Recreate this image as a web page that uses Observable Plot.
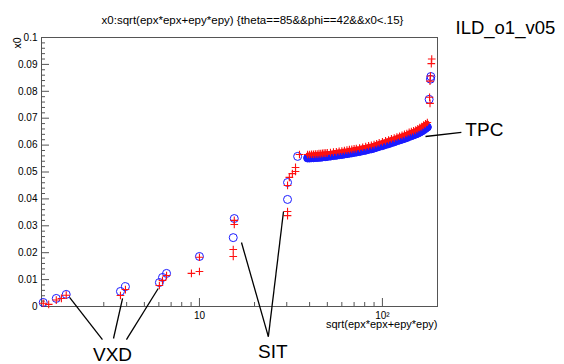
<!DOCTYPE html>
<html>
<head>
<meta charset="utf-8">
<script src="https://cdn.jsdelivr.net/npm/d3@7"></script>
<script src="https://cdn.jsdelivr.net/npm/@observablehq/plot@0.6"></script>
<style>
  body { margin: 0; background: #fff; }
</style>
</head>
<body>
<div id="chart"></div>
<script>
// Texts
const title = "x0:sqrt(epx*epx+epy*epy) {theta==85&&phi==42&&x0<.15}";
const tag = "ILD_o1_v05";
const xLabel = "sqrt(epx*epx+epy*epy)";
const yLabel = "x0";

// Blue circles: inner-detector hits (VXD, SIT) and the points past the TPC end
const blueX = [1.40, 1.65, 1.87, 3.70, 3.94, 6.04, 6.28, 6.61, 10.0, 15.3, 15.5, 30.3, 30.3, 34.4, 184, 183, 180];
const blueY = [0.0015, 0.0030, 0.0045, 0.0056, 0.0074, 0.0089, 0.0108, 0.0123, 0.0186, 0.0256, 0.0327, 0.0398, 0.0461, 0.0558, 0.0855, 0.0845, 0.0770];

// Red crosses: the same region for the second selection
const redX = [1.40, 1.50, 1.65, 1.76, 1.87, 3.70, 3.94, 6.04, 6.28, 6.61, 9.04, 10.0, 10.0, 15.5, 15.5, 15.3, 15.3, 30.3, 30.3, 30.3, 31.0, 32.2, 33.5, 33.5, 35.2, 186, 185, 183, 182, 181, 182];
const redY = [0.0012, 0.0008, 0.0024, 0.0030, 0.0042, 0.0041, 0.0063, 0.0078, 0.0097, 0.0115, 0.0123, 0.0130, 0.0183, 0.0320, 0.0305, 0.0212, 0.0186, 0.0353, 0.0338, 0.0450, 0.0480, 0.0494, 0.0502, 0.0517, 0.0565, 0.0920, 0.0903, 0.0857, 0.0838, 0.0778, 0.0755];

// TPC pad rows: radius and x0 for both selections
const tpcX = [39, 40, 41, 42, 43, 44, 45, 46, 47, 48, 49, 50, 52, 54, 56, 58, 60, 62, 64, 66, 68, 70, 72, 75, 78, 81, 84, 87, 90, 93, 96, 100, 104, 108, 112, 116, 120, 124, 128, 132, 136, 140, 144, 148, 152, 156, 160, 164, 168, 172, 176];
const tpcRed = [0.0565, 0.0565, 0.0566, 0.0566, 0.0567, 0.0567, 0.0568, 0.0568, 0.0569, 0.0570, 0.0570, 0.0571, 0.0572, 0.0574, 0.0575, 0.0577, 0.0578, 0.0580, 0.0581, 0.0583, 0.0584, 0.0586, 0.0587, 0.0589, 0.0592, 0.0594, 0.0597, 0.0599, 0.0602, 0.0605, 0.0608, 0.0612, 0.0616, 0.0619, 0.0623, 0.0626, 0.0630, 0.0633, 0.0636, 0.0640, 0.0643, 0.0647, 0.0650, 0.0653, 0.0656, 0.0660, 0.0665, 0.0669, 0.0674, 0.0679, 0.0684];
const tpcBlue = [0.0552, 0.0552, 0.0553, 0.0553, 0.0554, 0.0554, 0.0555, 0.0555, 0.0556, 0.0557, 0.0557, 0.0558, 0.0559, 0.0561, 0.0562, 0.0564, 0.0565, 0.0567, 0.0568, 0.0570, 0.0571, 0.0573, 0.0574, 0.0576, 0.0579, 0.0581, 0.0584, 0.0586, 0.0589, 0.0592, 0.0595, 0.0598, 0.0602, 0.0605, 0.0609, 0.0612, 0.0616, 0.0619, 0.0622, 0.0625, 0.0628, 0.0632, 0.0635, 0.0638, 0.0641, 0.0644, 0.0648, 0.0652, 0.0657, 0.0662, 0.0667];

// Axis ticks
const yTicks = [0, 0.01, 0.02, 0.03, 0.04, 0.05, 0.06, 0.07, 0.08, 0.09, 0.1];
const yTickLabels = ["0", "0.01", "0.02", "0.03", "0.04", "0.05", "0.06", "0.07", "0.08", "0.09", "0.1"];
const yMinor = [0.002, 0.004, 0.006, 0.008, 0.012, 0.014, 0.016, 0.018, 0.022, 0.024, 0.026, 0.028, 0.032, 0.034, 0.036, 0.038, 0.042, 0.044, 0.046, 0.048, 0.052, 0.054, 0.056, 0.058, 0.062, 0.064, 0.066, 0.068, 0.072, 0.074, 0.076, 0.078, 0.082, 0.084, 0.086, 0.088, 0.092, 0.094, 0.096, 0.098];
const xTicks = [10, 100];
const xTickLabels = ["10", "10\u00b2"];
const xMinor = [3, 4, 5, 6, 7, 8, 9, 20, 30, 40, 50, 60, 70, 80, 90];

// Detector labels and their pointer lines (data coordinates)
const labelNames = ["VXD", "SIT", "TPC"];
const labelX = [3.35, 25.2, 284];
const labelY = [-0.0179, -0.0167, 0.0658];
const pointerX1 = [1.95, 3.80, 5.95, 16.97, 28.8, 172];
const pointerY1 = [0.0034, 0.0030, 0.0067, 0.0238, 0.0353, 0.0632];
const pointerX2 = [2.95, 3.39, 3.99, 23.8, 23.8, 270];
const pointerY2 = [-0.0123, -0.0119, -0.0123, -0.0112, -0.0112, 0.0647];

const W = 564, H = 364;
const mL = 41, mR = 127, mT = 37, mB = 58;
const fw = W - mL - mR, fh = H - mT - mB;
const font = "'Liberation Sans', Arial, Helvetica, sans-serif";
const axisColor = "#555";
const red = "#ff1010";
const blue = "#1a1aff";

const idx = a => a.map((_, i) => i);
const labelIdx = idx(labelNames);

const chart = Plot.plot({
  width: W,
  height: H,
  marginLeft: mL,
  marginRight: mR,
  marginTop: mT,
  marginBottom: mB,
  style: { fontFamily: font, background: "white", overflow: "visible", color: "black" },
  x: { type: "log", domain: [1.37, 200] },
  y: { domain: [0, 0.1] },
  marks: [
    // frame and inward ticks
    Plot.frame({ stroke: axisColor }),
    Plot.ruleY(yTicks, { y: d => d, insetRight: fw - 8, stroke: axisColor }),
    Plot.ruleY(yMinor, { y: d => d, insetRight: fw - 4, stroke: axisColor }),
    Plot.ruleX(xTicks, { x: d => d, insetTop: fh - 8, stroke: axisColor }),
    Plot.ruleX(xMinor, { x: d => d, insetTop: fh - 4, stroke: axisColor }),
    Plot.axisY(yTicks, {
      tickSize: 0, tickPadding: 4, fontSize: 10, label: null,
      tickFormat: d => yTickLabels[yTicks.indexOf(d)]
    }),
    Plot.axisX(xTicks, {
      tickSize: 0, tickPadding: 5, fontSize: 10, label: null,
      tickFormat: d => xTickLabels[xTicks.indexOf(d)]
    }),
    // axis titles
    Plot.text([xLabel], { text: d => d, frameAnchor: "bottom-right", textAnchor: "end", dy: 21, fontSize: 11 }),
    Plot.text([yLabel], { text: d => d, frameAnchor: "top-left", textAnchor: "end", rotate: -90, dx: -28, fontSize: 10.5 }),
    // blue circles (TPC rows drawn as a dense track)
    Plot.line(idx(tpcX), { x: i => tpcX[i], y: i => tpcBlue[i], stroke: blue, strokeWidth: 8 }),
    Plot.dot(idx(tpcX), { x: i => tpcX[i], y: i => tpcBlue[i], symbol: "circle", r: 4, fill: "none", stroke: blue, strokeWidth: 1 }),
    Plot.dot(idx(blueX), { x: i => blueX[i], y: i => blueY[i], symbol: "circle", r: 4, fill: "none", stroke: blue, strokeWidth: 1 }),
    // red crosses
    Plot.line(idx(tpcX), { x: i => tpcX[i], y: i => tpcRed[i], stroke: red, strokeWidth: 4 }),
    Plot.dot(idx(tpcX), { x: i => tpcX[i], y: i => tpcRed[i], symbol: "plus", r: 2.6, stroke: red, strokeWidth: 1.1 }),
    Plot.dot(idx(redX), { x: i => redX[i], y: i => redY[i], symbol: "plus", r: 2.6, stroke: red, strokeWidth: 1.1 }),
    // detector annotations
    Plot.link(idx(pointerX1), {
      x1: i => pointerX1[i], y1: i => pointerY1[i],
      x2: i => pointerX2[i], y2: i => pointerY2[i],
      stroke: "black", strokeWidth: 1.3
    }),
    Plot.text(labelIdx.filter(i => labelNames[i] !== "TPC"), {
      x: i => labelX[i], y: i => labelY[i], text: i => labelNames[i],
      textAnchor: "middle", fontSize: 19, fill: "black"
    }),
    Plot.text(labelIdx.filter(i => labelNames[i] === "TPC"), {
      x: i => labelX[i], y: i => labelY[i], text: i => labelNames[i],
      textAnchor: "start", fontSize: 19, fill: "black"
    }),
    // titles
    Plot.text([title], { text: d => d, frameAnchor: "top-left", textAnchor: "middle", dx: 211, dy: -22, fontSize: 11.5 }),
    Plot.text([tag], { text: d => d, frameAnchor: "top-right", textAnchor: "start", dx: 18, dy: -17, fontSize: 18.5 })
  ]
});

document.getElementById("chart").appendChild(chart);
</script>
</body>
</html>
